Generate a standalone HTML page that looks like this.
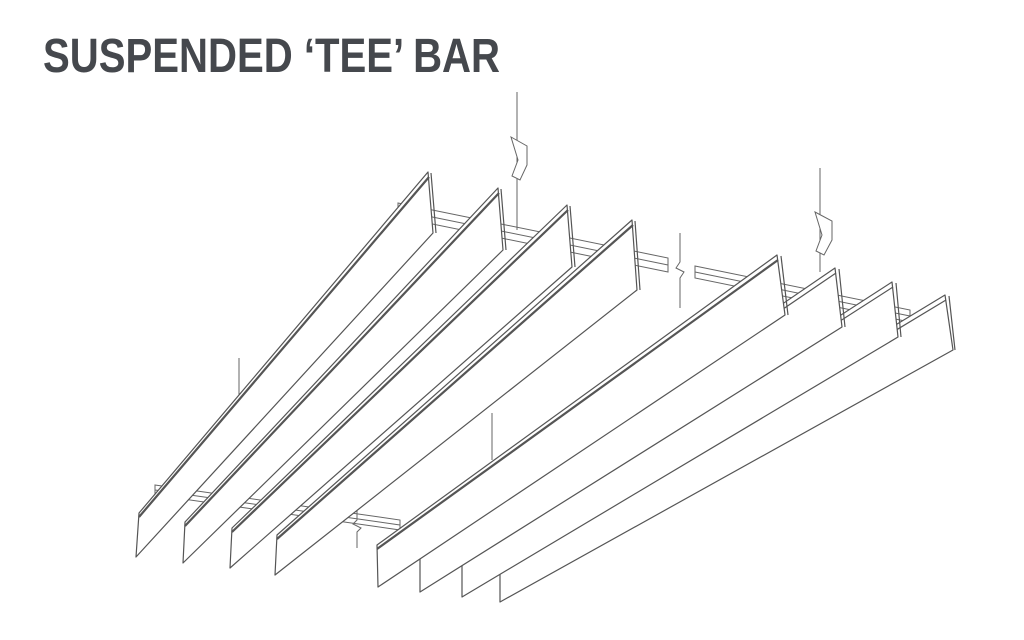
<!DOCTYPE html>
<html><head><meta charset="utf-8"><style>
html,body{margin:0;padding:0;background:#fff;width:1024px;height:640px;overflow:hidden}
</style></head><body>
<svg width="1024" height="640" viewBox="0 0 1024 640" xmlns="http://www.w3.org/2000/svg">
<text x="43" y="72" font-family="'Liberation Sans Narrow','Liberation Sans',sans-serif" font-weight="bold" font-size="48" fill="#45484d" textLength="457" lengthAdjust="spacingAndGlyphs">SUSPENDED ‘TEE’ BAR</text>
<g fill="none" stroke="#666" stroke-width="1">
  <!-- back main runner -->
  <polygon points="398,203 668,258 668,272 398,217" fill="#fff"/>
  <line x1="398" y1="210" x2="668" y2="265"/>
  <polygon points="695,266 910,310 910,322 695,278" fill="#fff"/>
  <line x1="695" y1="272" x2="910" y2="316"/>
  <!-- front runner -->
  <polygon points="155,485 400,520 400,530 155,495" fill="#fff"/>
  <line x1="155" y1="490" x2="400" y2="525"/>
  <!-- wires -->
  <line x1="517" y1="92" x2="517" y2="230"/>
  <polygon points="511,137 527,146 527,165 520,180 512,176 518,160" fill="#fff"/>
  <line x1="820" y1="168" x2="820" y2="272"/>
  <polygon points="815,212 832,221 832,240 824,255 816,251 822,235" fill="#fff"/>
  <path d="M680 233 L680 262 L676 268 L684 272 L680 278 L680 308"/>
  <path d="M357 505 L357 520 L353 524 L361 528 L357 532 L357 548"/>
  <line x1="239" y1="358" x2="239" y2="405"/>
  <line x1="492" y1="413" x2="492" y2="460"/>
</g>
<g stroke="#555" stroke-width="1.2" fill="#fff" stroke-linejoin="round">
  <!-- blade 8 -->
  <polygon points="500,565 945,295 953,350 500,602"/>
  <polyline points="500,569 946,300" fill="none"/><line x1="949" y1="296" x2="955" y2="350"/>
  <!-- blade 7 -->
  <polygon points="462,560 892,282 898,337 462,597"/>
  <polyline points="462,564 893,287" fill="none"/><line x1="896" y1="283" x2="901" y2="337"/>
  <!-- blade 6 -->
  <polygon points="420,552 835,268 842,327 420,592"/>
  <polyline points="420,556 836,273" fill="none"/><line x1="839" y1="269" x2="845" y2="327"/>
  <!-- blade 5 -->
  <polygon points="377,545 777,255 785,315 378,587"/>
  <polyline points="377,549 778,260" fill="none" stroke-width="2.2"/><line x1="781" y1="256" x2="788" y2="315"/>
  <!-- blade 4 -->
  <polygon points="277,535 632,220 637,290 275,575"/>
  <polyline points="277,539 633,225" fill="none" stroke-width="2.2"/><line x1="635" y1="221" x2="640" y2="290"/>
  <!-- blade 3 -->
  <polygon points="232,528 567,205 572,267 230,568"/>
  <polyline points="232,532 568,210" fill="none" stroke-width="2.2"/><line x1="570" y1="206" x2="575" y2="267"/>
  <!-- blade 2 -->
  <polygon points="185,522 498,188 503,250 183,563"/>
  <polyline points="185,526 499,193" fill="none" stroke-width="2.2"/><line x1="501" y1="189" x2="506" y2="250"/>
  <!-- blade 1 -->
  <polygon points="139,513 428,172 433,233 136,557"/>
  <polyline points="139,517 429,177" fill="none" stroke-width="2.2"/><line x1="431" y1="173" x2="436" y2="233"/>
</g>
</svg>
</body></html>
